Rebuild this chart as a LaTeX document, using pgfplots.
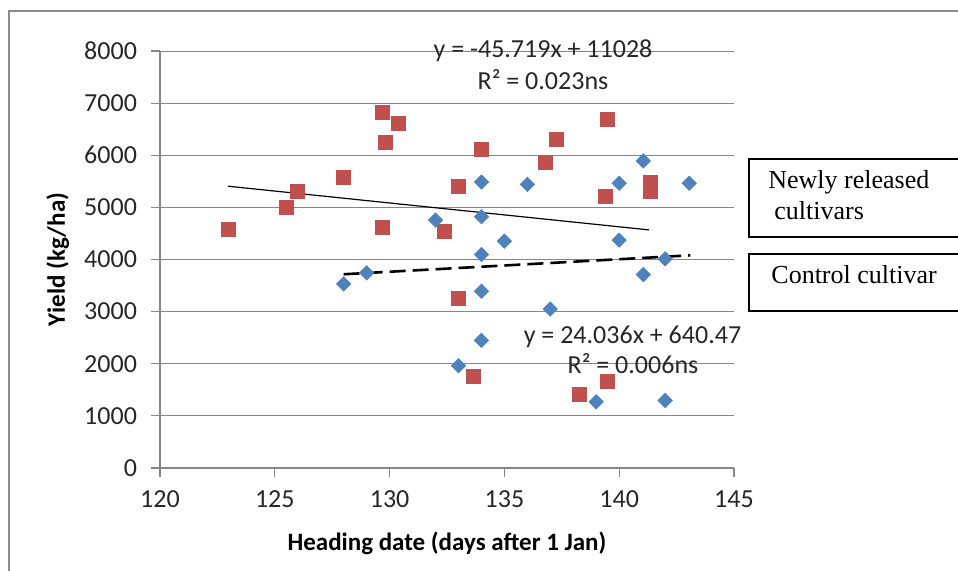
\documentclass[border=0pt]{standalone}
\usepackage{fontspec}
\setmainfont{Carlito}
\newfontfamily\timesf{Liberation Serif}
\usepackage{pgfplots}
\pgfplotsset{compat=1.18}
\definecolor{ored}{HTML}{C0504D}
\definecolor{oblue}{HTML}{4F81BD}
\definecolor{ggrid}{HTML}{868686}
\definecolor{gframe}{HTML}{8C8C8C}
\begin{document}
\begin{tikzpicture}
\path[use as bounding box] (0,0) rectangle (479bp,-285.5bp);
\draw[color=gframe, line width=1.1bp] (4.5bp,-290bp) -- (4.5bp,-5.5bp) -- (485bp,-5.5bp);
\begin{axis}[
 at={(80bp,-234bp)}, anchor=south west,
 scale only axis, width=287bp, height=208.5bp,
 xmin=120, xmax=145, ymin=0, ymax=8000,
 xtick={120,125,...,145}, ytick={0,1000,...,8000},
 axis x line=bottom, axis y line=left,
 axis line style={draw=ggrid, line width=0.6bp, -},
 ymajorgrids, grid style={draw=ggrid, line width=0.5bp},
 tick align=outside, major tick length=4.5bp,
 tick style={draw=ggrid, line width=0.6bp},
 ticklabel style={font=\fontsize{13bp}{15bp}\selectfont, text=black!85},
 xticklabel style={yshift=-3.5bp},
 yticklabel style={xshift=-3.5bp},
 /pgf/number format/assume math mode=true,
 scaled y ticks=false, yticklabel style={/pgf/number format/1000 sep={}},
 xlabel={Heading date (days after 1 Jan)}, ylabel={Yield (kg/ha)},
 xlabel style={font=\fontsize{12.5bp}{15bp}\selectfont\bfseries, at={(axis description cs:0.5,-0.18)}, anchor=center},
 ylabel style={font=\fontsize{12.5bp}{15bp}\selectfont\bfseries, at={(axis description cs:-0.178,0.5)}, anchor=center},
 clip=false,
]
% Newly released cultivars (red squares)
\addplot[only marks, mark=square*, mark size=3.5bp, color=ored] coordinates {
 (123.0,4577) (125.5,4994) (126.0,5314) (128.0,5583) (129.7,6821) (130.4,6615)
 (129.8,6256) (129.7,4609) (132.4,4532) (134.0,6115) (133.0,5410) (139.5,6679)
 (137.25,6308) (136.8,5859) (139.4,5218) (141.35,5470) (141.35,5310) (133.0,3263)
 (133.65,1756) (138.25,1404) (139.5,1660)
};
% Control cultivar (blue diamonds)
\addplot[only marks, mark=square*, mark size=2.5bp, mark options={rotate=45}, color=oblue] coordinates {
 (132.0,4756) (134.0,5487) (134.0,4821) (134.0,4096) (129.0,3744) (141.05,5891)
 (140.0,5462) (143.05,5462) (136.0,5442) (135.0,4352) (140.0,4372) (142.0,4013)
 (141.05,3711) (128.0,3532) (134.0,3391) (134.0,2449) (133.0,1962) (137.0,3051)
 (139.0,1269) (142.0,1295)
};
% trend lines
\addplot[black, line width=0.6bp] coordinates {(122.96,5406.4) (141.3,4567.9)};
\addplot[black, line width=1.3bp, dash pattern=on 8bp off 3.5bp] coordinates {(128.0,3717.1) (143.1,4080.1)};
\end{axis}
\begin{scope}[every node/.style={font=\fontsize{13bp}{15bp}\selectfont, text=black!85, anchor=base, inner sep=0pt}]
\node at (271.5bp,-28.5bp) {y = -45.719x + 11028};
\node at (271.5bp,-44.5bp) {R² = 0.023ns};
\node at (316.25bp,-171.5bp) {y = 24.036x + 640.47};
\node at (316.5bp,-186.5bp) {R² = 0.006ns};
\end{scope}
\draw[black, line width=0.8bp] (482bp,-79.5bp) -- (374.5bp,-79.5bp) -- (374.5bp,-118.5bp) -- (482bp,-118.5bp);
\draw[black, line width=0.8bp] (482bp,-127bp) -- (374.5bp,-127bp) -- (374.5bp,-155.5bp) -- (482bp,-155.5bp);
\begin{scope}[every node/.style={font=\timesf\fontsize{13bp}{15bp}\selectfont, anchor=base west, inner sep=0pt}]
\node at (384bp,-94bp) {Newly released};
\node at (387bp,-109.5bp) {cultivars};
\node at (385.5bp,-141.5bp) {Control cultivar};
\end{scope}
\end{tikzpicture}
\end{document}
